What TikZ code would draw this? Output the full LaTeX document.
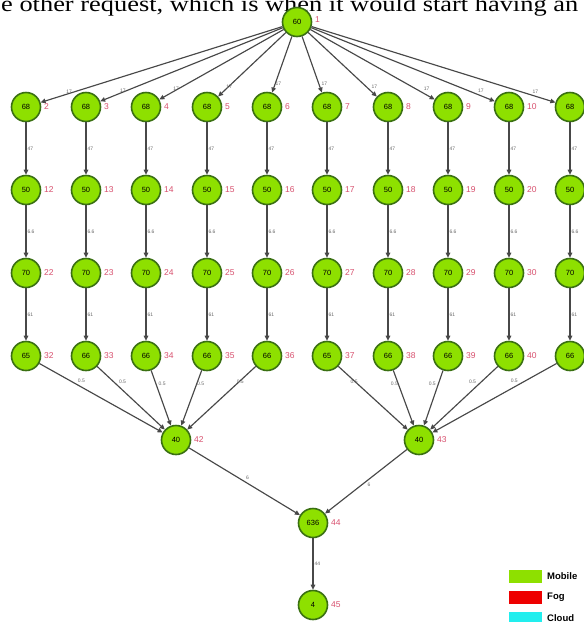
\documentclass[tikz,border=0pt]{standalone}
\usepackage{fontspec}
\setmainfont{Liberation Serif}
\setsansfont{Liberation Sans}
\usetikzlibrary{arrows.meta}
\definecolor{nodefill}{HTML}{8EE000}
\definecolor{nodeedge}{HTML}{3A7012}
\definecolor{idred}{HTML}{D8506E}
\definecolor{edgegray}{HTML}{484848}
\definecolor{wtgray}{HTML}{6A6A6A}
\definecolor{fogred}{HTML}{EE0000}
\definecolor{cloudcyan}{HTML}{22EEEE}
\tikzset{
  task/.style={circle, draw=nodeedge, line width=1.6pt, fill=nodefill,
    minimum size=29pt, inner sep=0pt, font=\sffamily\fontsize{7.5}{7.5}\selectfont},
  idl/.style={text=idred, font=\sffamily\fontsize{8.5}{8.5}\selectfont, anchor=west, inner sep=0pt},
  flow/.style={draw=edgegray, line width=1.15pt, -{Triangle[length=5pt,width=4.5pt]}},
  wt/.style={font=\sffamily\fontsize{5}{5}\selectfont, text=wtgray, inner sep=1pt},
  legbox/.style={minimum width=33pt, minimum height=13pt, inner sep=0pt, draw=none},
  legtxt/.style={font=\sffamily\bfseries\fontsize{9.5}{9.5}\selectfont, anchor=west, inner sep=0pt}
}
\begin{document}
\begin{tikzpicture}[x=1pt,y=-1pt]
\useasboundingbox (0,0) rectangle (584,622);
\fill[white] (0,0) rectangle (584,622);
\begin{scope}
\clip (0,0) rectangle (584,622);
% running text of the page above the figure
\node[anchor=base west, inner sep=0pt, font=\fontsize{22}{22}\selectfont] (pagetext) at (1,11)
  {\scalebox{1.2}[1]{e other request, which is when it would start having an}};
\end{scope}

% source task
\node[task] (t1) at (297,22) {60};
\node[idl] (l1) at (315,20) {1};

% four stages of ten parallel tasks
\foreach \c/\x in {1/26,2/86,3/146,4/207,5/267,6/327,7/388,8/448,9/509,10/570}{
  \pgfmathtruncatemacro{\ia}{\c+1}
  \pgfmathtruncatemacro{\ib}{\c+11}
  \pgfmathtruncatemacro{\ic}{\c+21}
  \pgfmathtruncatemacro{\id}{\c+31}
  \node[task] (a\c) at (\x,107) {68};
  \node[task] (b\c) at (\x,190) {50};
  \node[task] (c\c) at (\x,273) {70};
  \node[task] (d\c) at (\x,356) {\ifnum\c=1 65\else\ifnum\c=6 65\else 66\fi\fi};
  \ifnum\c<10
    \node[idl] at (\x+18,107) {\ia};
    \node[idl] at (\x+18,190) {\ib};
    \node[idl] at (\x+18,273) {\ic};
    \node[idl] at (\x+18,356) {\id};
  \fi
  \draw[flow] (a\c) -- node[wt, right] {47} (b\c);
  \draw[flow] (b\c) -- node[wt, right] {6.6} (c\c);
  \draw[flow] (c\c) -- node[wt, right] {61} (d\c);
}

% fan-out from the source
\foreach \c in {1,...,10}{
  \draw[flow] (t1) -- node[wt, pos=0.9, above right] {17} (a\c);
}

% aggregation tasks
\node[task] (g1) at (176,440) {40};
\node[idl] at (194,440) {42};
\node[task] (g2) at (419,440) {40};
\node[idl] at (437,440) {43};
\foreach \c in {1,...,5}{
  \draw[flow] (d\c) -- node[wt, pos=0.3, above right] {0.5} (g1);
}
\foreach \c in {6,...,10}{
  \draw[flow] (d\c) -- node[wt, pos=0.3, above left] {0.5} (g2);
}

% join and sink
\node[task] (j) at (313,523) {636};
\node[idl] at (331,523) {44};
\node[task] (s) at (313,605) {4};
\node[idl] at (331,605) {45};
\draw[flow] (g1) -- node[wt, above right] {6} (j);
\draw[flow] (g2) -- node[wt, below right] {6} (j);
\draw[flow] (j) -- node[wt, right] {44} (s);

% legend
\node[legbox, fill=nodefill] (k1) at (525,576) {};
\node[legtxt] at (547,576) {Mobile};
\node[legbox, fill=fogred] (k2) at (525,597) {};
\node[legtxt] at (547,597) {Fog};
\node[legbox, fill=cloudcyan] (k3) at (525,618) {};
\node[legtxt] at (547,618) {Cloud};
\end{tikzpicture}
\end{document}
